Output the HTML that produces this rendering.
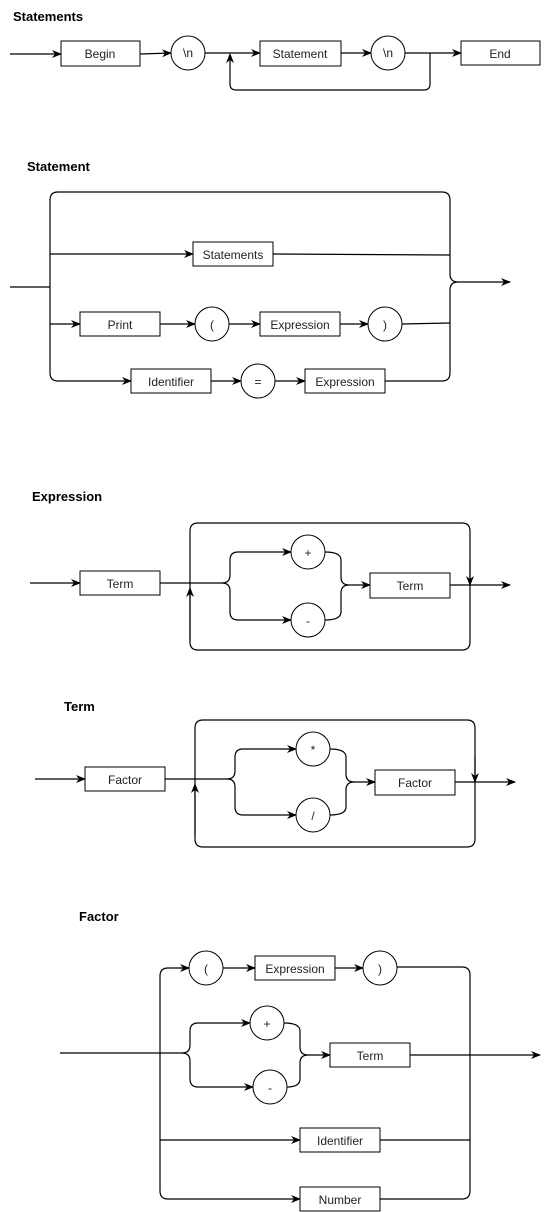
<!DOCTYPE html>
<html><head><meta charset="utf-8"><style>
html,body{margin:0;padding:0;background:#fff;}
svg{display:block;}
text{font-family:"Liberation Sans",sans-serif;font-size:12px;fill:#222;}
.t{font-weight:bold;font-size:13px;fill:#000;}
rect,circle{fill:#fff;stroke:#000;stroke-width:1;}
path,line{fill:none;stroke:#000;stroke-width:1.2;}
</style></head><body>
<svg width="549" height="1212" viewBox="0 0 549 1212">
<defs><marker id="a" markerWidth="10" markerHeight="8" refX="9" refY="4" orient="auto" markerUnits="userSpaceOnUse"><path d="M0,0 L10,4 L0,8 L3,4 Z" style="fill:#000;stroke:none"/></marker></defs>

<!-- Statements -->
<text class="t" x="13" y="21">Statements</text>
<line x1="10" y1="54" x2="61" y2="54" marker-end="url(#a)"/>
<rect x="61" y="41" width="79" height="25"/><text x="100" y="58" text-anchor="middle">Begin</text>
<line x1="140" y1="54" x2="171" y2="53" marker-end="url(#a)"/>
<circle cx="188" cy="53" r="17"/><text x="188" y="57" text-anchor="middle">\n</text>
<line x1="205" y1="53" x2="260" y2="53" marker-end="url(#a)"/>
<rect x="260" y="41" width="81" height="25"/><text x="300" y="58" text-anchor="middle">Statement</text>
<line x1="341" y1="53" x2="371" y2="53" marker-end="url(#a)"/>
<circle cx="388" cy="53" r="17"/><text x="388" y="57" text-anchor="middle">\n</text>
<line x1="405" y1="53" x2="461" y2="53" marker-end="url(#a)"/>
<rect x="461" y="41" width="79" height="24"/><text x="500" y="58" text-anchor="middle">End</text>
<path d="M430,53 V84 Q430,90 424,90 H236 Q230,90 230,84 V54" marker-end="url(#a)"/>

<!-- Statement -->
<text class="t" x="27" y="171">Statement</text>
<line x1="10" y1="287" x2="50" y2="287"/>
<path d="M50,373 V200 Q50,192 58,192 H442 Q450,192 450,200 V274 Q450,282 458,282 Q450,282 450,290 V373 Q450,381 442,381 H385"/>
<path d="M50,373 Q50,381 58,381 H131" marker-end="url(#a)"/>
<line x1="50" y1="254" x2="193" y2="254" marker-end="url(#a)"/>
<rect x="193" y="242" width="80" height="24"/><text x="233" y="259" text-anchor="middle">Statements</text>
<line x1="273" y1="254" x2="450" y2="255"/>
<line x1="50" y1="324" x2="80" y2="324" marker-end="url(#a)"/>
<rect x="80" y="312" width="80" height="24"/><text x="120" y="329" text-anchor="middle">Print</text>
<line x1="160" y1="324" x2="195" y2="324" marker-end="url(#a)"/>
<circle cx="212" cy="324" r="17"/><text x="212" y="329" text-anchor="middle">(</text>
<line x1="229" y1="324" x2="260" y2="324" marker-end="url(#a)"/>
<rect x="260" y="312" width="80" height="24"/><text x="300" y="329" text-anchor="middle">Expression</text>
<line x1="340" y1="324" x2="368" y2="324" marker-end="url(#a)"/>
<circle cx="385" cy="324" r="17"/><text x="385" y="329" text-anchor="middle">)</text>
<line x1="402" y1="324" x2="450" y2="323"/>
<rect x="131" y="369" width="80" height="24"/><text x="171" y="386" text-anchor="middle">Identifier</text>
<line x1="211" y1="381" x2="241" y2="381" marker-end="url(#a)"/>
<circle cx="258" cy="381" r="17"/><text x="258" y="386" text-anchor="middle">=</text>
<line x1="275" y1="381" x2="305" y2="381" marker-end="url(#a)"/>
<rect x="305" y="369" width="80" height="24"/><text x="345" y="386" text-anchor="middle">Expression</text>
<line x1="458" y1="282" x2="510" y2="282" marker-end="url(#a)"/>

<!-- Expression -->
<text class="t" x="32" y="501">Expression</text>
<line x1="30" y1="583" x2="80" y2="583" marker-end="url(#a)"/>
<rect x="80" y="571" width="80" height="24"/><text x="120" y="588" text-anchor="middle">Term</text>
<path d="M160,583 H222 Q230,583 230,575 V560 Q230,552 238,552 H291" marker-end="url(#a)"/>
<path d="M222,583 Q230,583 230,591 V612 Q230,620 238,620 H291" marker-end="url(#a)"/>
<circle cx="308" cy="552" r="17"/><text x="308" y="557" text-anchor="middle">+</text>
<circle cx="308" cy="620" r="17"/><text x="308" y="625" text-anchor="middle">-</text>
<path d="M325,552 Q341,552 341,560 V577 Q341,585 349,585 H370" marker-end="url(#a)"/>
<path d="M325,620 Q341,620 341,612 V593 Q341,585 349,585"/>
<rect x="370" y="573" width="80" height="25"/><text x="410" y="590" text-anchor="middle">Term</text>
<path d="M190,588 V642 Q190,650 198,650 H462 Q470,650 470,642 V531 Q470,523 462,523 H198 Q190,523 190,531 V588"/>
<line x1="190" y1="640" x2="190" y2="588" marker-end="url(#a)"/>
<line x1="470" y1="560" x2="470" y2="585" marker-end="url(#a)"/>
<line x1="450" y1="585" x2="510" y2="585" marker-end="url(#a)"/>

<!-- Term -->
<text class="t" x="64" y="711">Term</text>
<line x1="35" y1="779" x2="85" y2="779" marker-end="url(#a)"/>
<rect x="85" y="767" width="80" height="24"/><text x="125" y="784" text-anchor="middle">Factor</text>
<path d="M165,779 H227 Q235,779 235,771 V757 Q235,749 243,749 H296" marker-end="url(#a)"/>
<path d="M227,779 Q235,779 235,787 V807 Q235,815 243,815 H296" marker-end="url(#a)"/>
<circle cx="313" cy="749" r="17"/><text x="313" y="754" text-anchor="middle">*</text>
<circle cx="313" cy="815" r="17"/><text x="313" y="820" text-anchor="middle">/</text>
<path d="M330,749 Q346,749 346,757 V774 Q346,782 354,782 H375" marker-end="url(#a)"/>
<path d="M330,815 Q346,815 346,807 V790 Q346,782 354,782"/>
<rect x="375" y="770" width="80" height="25"/><text x="415" y="787" text-anchor="middle">Factor</text>
<path d="M195,784 V839 Q195,847 203,847 H467 Q475,847 475,839 V728 Q475,720 467,720 H203 Q195,720 195,728 V784"/>
<line x1="195" y1="835" x2="195" y2="784" marker-end="url(#a)"/>
<line x1="475" y1="757" x2="475" y2="782" marker-end="url(#a)"/>
<line x1="455" y1="782" x2="515" y2="782" marker-end="url(#a)"/>

<!-- Factor -->
<text class="t" x="79" y="921">Factor</text>
<path d="M189,968 H168 Q160,968 160,976 V1191 Q160,1199 168,1199 H300" marker-end="url(#a)"/>
<line x1="180" y1="968" x2="189" y2="968" marker-end="url(#a)"/>
<circle cx="206" cy="968" r="17"/><text x="206" y="973" text-anchor="middle">(</text>
<line x1="223" y1="968" x2="255" y2="968" marker-end="url(#a)"/>
<rect x="255" y="956" width="80" height="24"/><text x="295" y="973" text-anchor="middle">Expression</text>
<line x1="335" y1="968" x2="363" y2="968" marker-end="url(#a)"/>
<circle cx="380" cy="968" r="17"/><text x="380" y="973" text-anchor="middle">)</text>
<path d="M397,967 H462 Q470,967 470,975 V1191 Q470,1199 462,1199 H380"/>
<path d="M60,1053 H182 Q190,1053 190,1045 V1031 Q190,1023 198,1023 H250" marker-end="url(#a)"/>
<path d="M182,1053 Q190,1053 190,1061 V1079 Q190,1087 198,1087 H253" marker-end="url(#a)"/>
<circle cx="267" cy="1023" r="17"/><text x="267" y="1028" text-anchor="middle">+</text>
<circle cx="270" cy="1087" r="17"/><text x="270" y="1092" text-anchor="middle">-</text>
<path d="M284,1023 Q300,1023 300,1031 V1047 Q300,1055 308,1055 H330" marker-end="url(#a)"/>
<path d="M287,1087 Q300,1087 300,1079 V1063 Q300,1055 308,1055"/>
<rect x="330" y="1043" width="80" height="24"/><text x="370" y="1060" text-anchor="middle">Term</text>
<line x1="410" y1="1055" x2="540" y2="1055" marker-end="url(#a)"/>
<line x1="160" y1="1140" x2="300" y2="1140" marker-end="url(#a)"/>
<rect x="300" y="1128" width="80" height="24"/><text x="340" y="1145" text-anchor="middle">Identifier</text>
<line x1="380" y1="1140" x2="470" y2="1140"/>
<rect x="300" y="1187" width="80" height="24"/><text x="340" y="1204" text-anchor="middle">Number</text>
</svg>
</body></html>
